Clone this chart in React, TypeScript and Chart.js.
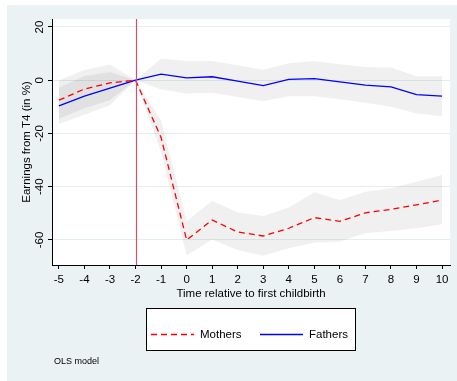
import React, { useEffect, useRef } from "react";
import { Chart, registerables } from "chart.js";

Chart.register(...registerables);

const years = [-5, -4, -3, -2, -1, 0, 1, 2, 3, 4, 5, 6, 7, 8, 9, 10];
const mothers = [-7.5, -3.3, -1, 0, -21.5, -60, -52.5, -57, -58.5, -55.6, -51.6, -53, -49.8, -48.5, -46.8, -45];
const mothersLo = [-14.5, -10.5, -7.5, 0, -27, -65.8, -59.8, -63.8, -65.9, -63.1, -61, -60.6, -57.5, -56.6, -55.6, -54.1];
const mothersHi = [0, 3.8, 5.9, 0, -15, -53, -45.3, -49.6, -51, -47.8, -42.1, -45, -41.9, -40.6, -38.1, -35.6];
const fathers = [-9.6, -6, -3, 0, 2.3, 0.9, 1.3, -0.3, -2, 0.3, 0.6, -0.6, -1.8, -2.5, -5.4, -6];
const fathersLo = [-16.5, -13, -9.4, 0, -3.5, -5, -4.7, -6.3, -7.9, -6, -6, -7.1, -8.5, -10, -12.5, -13.5];
const fathersHi = [-2.7, 1.6, 3.1, 0, 8.2, 7.2, 7.2, 5.6, 3.9, 6.4, 7.2, 6, 5, 4.8, 1.5, 1.5];
const xTicks = [-5, -4, -3, -2, -1, 0, 1, 2, 3, 4, 5, 6, 7, 8, 9, 10];
const yTicks = [-60, -40, -20, 0, 20];
const referenceYear = -2;
const seriesLabels = ["Mothers", "Fathers"];
const xTitle = "Time relative to first childbirth";
const yTitle = "Earnings from T4 (in %)";
const note = "OLS model";

const FONT = "'Liberation Sans', Arial, Helvetica, sans-serif";
const BG = "#eaf2f3";
const BAND = "rgba(0,0,0,0.06)";

const pts = (arr: number[]) => years.map((x, i) => ({ x, y: arr[i] }));

const decorPlugin = {
  id: "decor",
  beforeDraw(chart: any) {
    const { ctx, chartArea, width, height } = chart;
    ctx.save();
    ctx.fillStyle = BG;
    ctx.fillRect(0, 0, width, height);
    ctx.fillStyle = "#ffffff";
    ctx.fillRect(chartArea.left, chartArea.top, chartArea.right - chartArea.left, chartArea.bottom - chartArea.top);
    ctx.restore();
  },
  afterDatasetsDraw(chart: any) {
    const { ctx, chartArea, scales } = chart;
    const x = Math.round(scales.x.getPixelForValue(referenceYear)) + 0.5;
    ctx.save();
    ctx.strokeStyle = "#d2506e";
    ctx.lineWidth = 1.2;
    ctx.beginPath();
    ctx.moveTo(x, chartArea.top);
    ctx.lineTo(x, chartArea.bottom);
    ctx.stroke();
    ctx.restore();
  },
  afterDraw(chart: any) {
    const { ctx } = chart;
    const ds = chart.data.datasets.filter((d: any) => d.isMain);
    const boxL = 139, boxT = 303, boxW = 210, boxH = 43;
    ctx.save();
    ctx.fillStyle = "#ffffff";
    ctx.fillRect(boxL, boxT, boxW, boxH);
    ctx.strokeStyle = "#000";
    ctx.lineWidth = 1;
    ctx.strokeRect(boxL + 0.5, boxT + 0.5, boxW - 1, boxH - 1);
    const cy = 329.5;
    const starts = [144, 253];
    ds.forEach((d: any, i: number) => {
      const sx = starts[i];
      ctx.strokeStyle = d.borderColor;
      ctx.lineWidth = 1.3;
      ctx.setLineDash(d.borderDash || []);
      ctx.beginPath();
      ctx.moveTo(sx, cy);
      ctx.lineTo(sx + 43, cy);
      ctx.stroke();
      ctx.setLineDash([]);
      ctx.fillStyle = "#000";
      ctx.font = `11.5px ${FONT}`;
      ctx.textBaseline = "middle";
      ctx.textAlign = "left";
      ctx.fillText(d.label, sx + 49, cy);
    });
    ctx.font = `9px ${FONT}`;
    ctx.fillStyle = "#000";
    ctx.textBaseline = "middle";
    ctx.fillText(note, 47, 357);
    ctx.restore();
  },
};

export default function App() {
  const ref = useRef<HTMLCanvasElement>(null);
  useEffect(() => {
    if (!ref.current) return;
    const chart = new Chart(ref.current, {
      type: "line",
      data: {
        datasets: [
          {
            label: seriesLabels[0],
            isMain: true,
            data: pts(mothers),
            borderColor: "#ff0000",
            borderWidth: 1.3,
            borderDash: [6, 4],
            pointRadius: 0,
            fill: false,
            tension: 0,
          } as any,
          {
            label: seriesLabels[1],
            isMain: true,
            data: pts(fathers),
            borderColor: "#0000ff",
            borderWidth: 1.3,
            pointRadius: 0,
            fill: false,
            tension: 0,
          } as any,
          {
            label: "mHi",
            data: pts(mothersHi),
            borderWidth: 0,
            borderColor: "transparent",
            backgroundColor: BAND,
            pointRadius: 0,
            fill: "+1",
          },
          {
            label: "mLo",
            data: pts(mothersLo),
            borderWidth: 0,
            borderColor: "transparent",
            pointRadius: 0,
            fill: false,
          },
          {
            label: "fHi",
            data: pts(fathersHi),
            borderWidth: 0,
            borderColor: "transparent",
            backgroundColor: BAND,
            pointRadius: 0,
            fill: "+1",
          },
          {
            label: "fLo",
            data: pts(fathersLo),
            borderWidth: 0,
            borderColor: "transparent",
            pointRadius: 0,
            fill: false,
          },
        ],
      },
      options: {
        animation: false,
        responsive: false,
        maintainAspectRatio: false,
        layout: { padding: { left: 0, right: 7, top: 14, bottom: 71 } },
        plugins: { legend: { display: false }, tooltip: { enabled: false } },
        scales: {
          x: {
            type: "linear",
            min: -5.27,
            max: 10.31,
            afterBuildTicks: (s: any) => {
              s.ticks = xTicks.map((v) => ({ value: v }));
            },
            afterFit: (s: any) => {
              s.height = 45;
            },
            grid: { drawOnChartArea: false, tickColor: "#000", tickLength: 4 },
            border: { color: "#000", width: 1 },
            ticks: {
              color: "#000",
              font: { family: FONT, size: 11.5 },
              padding: 4,
              maxRotation: 0,
              minRotation: 0,
              autoSkip: false,
            },
            title: {
              display: true,
              text: xTitle,
              color: "#000",
              font: { family: FONT, size: 11.5 },
              padding: { top: 0, bottom: 9.6 },
            },
          },
          y: {
            type: "linear",
            min: -69.4,
            max: 23,
            afterBuildTicks: (s: any) => {
              s.ticks = yTicks.map((v) => ({ value: v }));
            },
            afterFit: (s: any) => {
              s.width = 45;
            },
            grid: { color: "#e3eef0", tickColor: "#000", tickLength: 4, lineWidth: 1 },
            border: { color: "#000", width: 1 },
            ticks: {
              color: "#000",
              font: { family: FONT, size: 11.5 },
              padding: 0,
              minRotation: 90,
              maxRotation: 90,
              crossAlign: "center",
              autoSkip: false,
            },
            title: {
              display: true,
              text: yTitle,
              color: "#000",
              font: { family: FONT, size: 11.5 },
              padding: { top: 13, bottom: 0 },
            },
          },
        },
      } as any,
      plugins: [decorPlugin],
    });
    return () => chart.destroy();
  }, []);
  return (
    <div style={{ position: "absolute", left: 7, top: 5, width: 450, height: 376 }}>
      <canvas ref={ref} width={450} height={376} style={{ display: "block", width: 450, height: 376 }} />
    </div>
  );
}
